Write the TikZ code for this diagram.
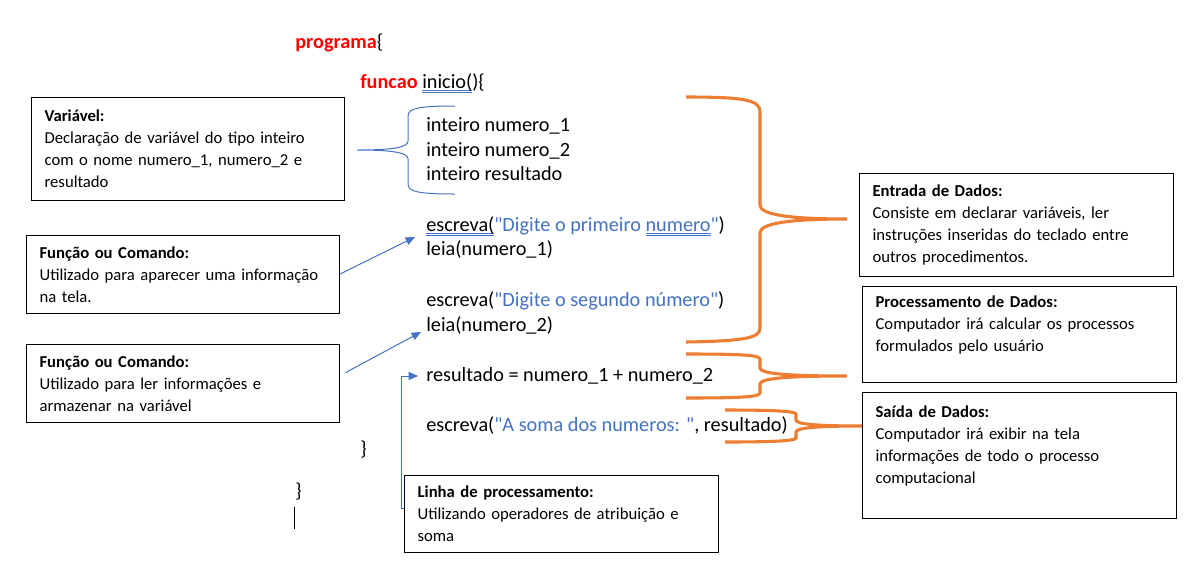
\documentclass[tikz,border=0pt]{standalone}
\usepackage{fontspec}
\setmainfont{Carlito}[Ligatures=TeXOff]
\usepackage{xcolor}
\usetikzlibrary{arrows.meta}
\usetikzlibrary{positioning}

\definecolor{wordred}{HTML}{FF0000}
\definecolor{wordblue}{HTML}{4472C4}
\definecolor{wordorange}{HTML}{ED7D31}

% double blue underline under a word
\newsavebox{\ulinebox}
\newcommand{\gramline}[1]{\sbox{\ulinebox}{#1}%
  \rlap{\textcolor{wordblue}{\rule[-2.2pt]{\wd\ulinebox}{0.45pt}}}%
  \rlap{\textcolor{wordblue}{\rule[-3.8pt]{\wd\ulinebox}{0.45pt}}}%
  \usebox{\ulinebox}}

\begin{document}
\begin{tikzpicture}[x=0.75pt,y=-0.75pt,
    code/.style={font=\fontsize{15.2}{18}\selectfont, inner sep=0pt},
    keyword/.style={code, text=wordred, font=\fontsize{15.2}{18}\selectfont\bfseries},
    infobox/.style={draw, thin, anchor=north west, align=left, inner xsep=10pt,
      font=\fontsize{12.5}{16.5}\selectfont},
    bluelink/.style={wordblue, line width=0.75pt, -{Triangle[length=7pt,width=6pt]}},
    bluebrace/.style={wordblue, line width=0.75pt},
    orangebrace/.style={wordorange, line width=2.3pt}]
  \useasboundingbox (0,0) rectangle (1189,565);

  % Program text
  \node[keyword, anchor=base west] (prog) at (295,48) {programa\textcolor{black}{\mdseries\{}};
  \node[keyword, anchor=base west] (func) at (360,88) {funcao \textcolor{black}{\mdseries\gramline{inicio(})\{}};
  \node[code, anchor=base west] (int1) at (426,131) {inteiro numero\_1};
  \node[code, anchor=base west] (int2) at (426,156) {inteiro numero\_2};
  \node[code, anchor=base west] (int3) at (426,180) {inteiro resultado};
  \node[code, anchor=base west] (esc1) at (426,231)
    {\gramline{escreva(}\textcolor{wordblue}{"Digite o primeiro \gramline{numero}"})};
  \node[code, anchor=base west] (leia1) at (426,255) {leia(numero\_1)};
  \node[code, anchor=base west] (esc2) at (426,306)
    {escreva(\textcolor{wordblue}{"Digite o segundo número"})};
  \node[code, anchor=base west] (leia2) at (426,331) {leia(numero\_2)};
  \node[code, anchor=base west] (calc) at (426,381) {resultado = numero\_1 + numero\_2};
  \node[code, anchor=base west] (esc3) at (426,431)
    {escreva(\textcolor{wordblue}{"A soma dos numeros: "}, resultado)};
  \node[code, anchor=base west] (endfunc) at (360,455) {\}};
  \node[code, anchor=base west] (endprog) at (295,497) {\}};
  \draw[line width=0.75pt] (294,507) -- (294,529);

  % Explanation boxes
  \node[infobox, minimum width=234.75pt, minimum height=77.25pt, text width=214.75pt] (var) at (31,97)
    {\textbf{Variável:}\\ Declaração de variável do tipo inteiro\\ com o nome numero\_1, numero\_2 e\\ resultado};
  \node[infobox, minimum width=234.75pt, minimum height=58.5pt, text width=214.75pt] (cmd1) at (26,235)
    {\textbf{Função ou Comando:}\\ Utilizado para aparecer uma informação\\ na tela.};
  \node[infobox, minimum width=234.75pt, minimum height=58.5pt, text width=214.75pt] (cmd2) at (26,344)
    {\textbf{Função ou Comando:}\\ Utilizado para ler informações e\\ armazenar na variável};
  \node[infobox, minimum width=235.5pt, minimum height=77.25pt, text width=215.5pt] (entrada) at (859,173)
    {\textbf{Entrada de Dados:}\\ Consiste em declarar variáveis, ler\\ instruções inseridas do teclado entre\\ outros procedimentos.};
  \node[infobox, minimum width=235.5pt, minimum height=72pt, text width=215.5pt] (proc) at (862,286)
    {\textbf{Processamento de Dados:}\\ Computador irá calcular os processos\\ formulados pelo usuário\\ \mbox{}};
  \node[infobox, minimum width=235.5pt, minimum height=94.5pt, text width=215.5pt] (saida) at (862,392)
    {\textbf{Saída de Dados:}\\ Computador irá exibir na tela\\ informações de todo o processo\\ computacional\\ \mbox{}};
  \node[infobox, minimum width=235.5pt, minimum height=57.75pt, text width=215.5pt] (linha) at (404,475)
    {\textbf{Linha de processamento:}\\ Utilizando operadores de atribuição e\\ soma};

  % Arrow ends
  \coordinate (tipesc) at (415,237);
  \coordinate (tipleia) at (421,332);
  \coordinate (tipcalc) at (418,376);

  % Blue connectors
  \draw[bluelink] (cmd1.east) -- (tipesc);
  \draw[bluelink] ([xshift=4.5pt,yshift=8pt]cmd2.east) -- (tipleia);
  \draw[bluelink] ([yshift=4pt]linha.west) -- ++(-3,0) |- (tipcalc);

  % Blue brace for the declarations
  \draw[bluebrace] (455,106) .. controls (420,106) and (408,108) .. (408,116) -- (408,141)
    .. controls (408,147) and (395,150) .. (357,150)
    .. controls (395,150) and (408,153) .. (408,159) -- (408,184)
    .. controls (408,192) and (420,194) .. (455,194);

  % Orange braces
  \draw[orangebrace] (686,97) .. controls (745,97) and (760,100) .. (760,112) -- (760,205)
    .. controls (760,214) and (785,219) .. (847,219)
    .. controls (785,219) and (760,224) .. (760,233) -- (760,328)
    .. controls (760,338) and (745,341) .. (686,342);
  \draw[orangebrace] (686,354) .. controls (740,354) and (760,355) .. (760,359) -- (760,368)
    .. controls (760,373) and (780,376) .. (847,376)
    .. controls (780,376) and (760,379) .. (760,384) -- (760,393)
    .. controls (760,397) and (740,398) .. (686,398);
  \draw[orangebrace] (725,410) .. controls (770,410) and (796,411) .. (796,414) -- (796,420)
    .. controls (796,424) and (815,426) .. (862,426)
    .. controls (815,426) and (796,428) .. (796,432) -- (796,438)
    .. controls (796,441) and (770,442) .. (725,442);
\end{tikzpicture}
\end{document}
